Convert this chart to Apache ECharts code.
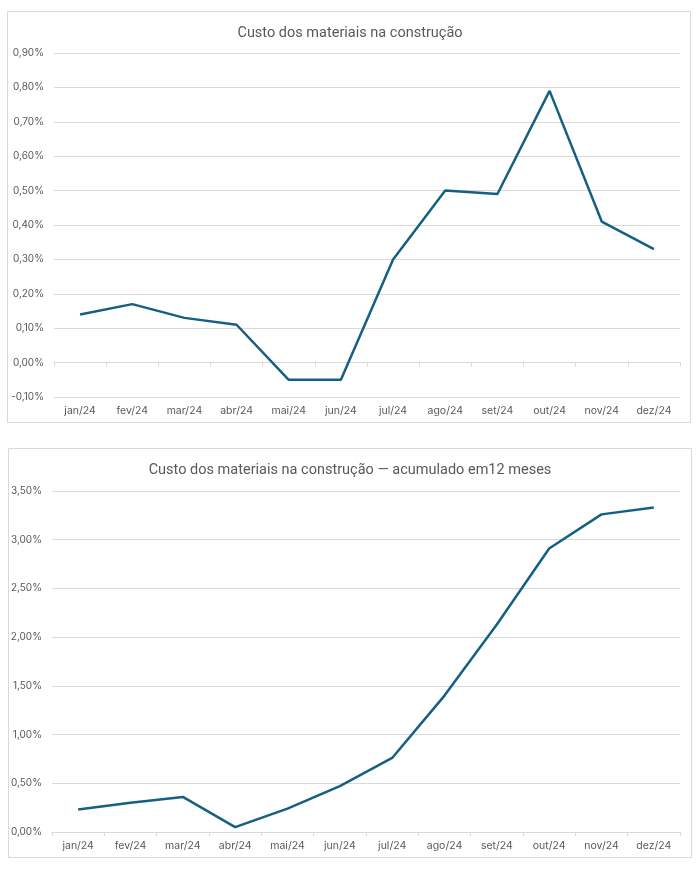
<!DOCTYPE html>
<html>
<head>
<meta charset="utf-8">
<script src="https://cdn.jsdelivr.net/npm/echarts@6/dist/echarts.min.js"></script>
<style>
html,body{margin:0;padding:0;background:#fff;}
#c{width:700px;height:876px;}
</style>
</head>
<body>
<div id="c"></div>
<script>
const categories = ['jan/24','fev/24','mar/24','abr/24','mai/24','jun/24','jul/24','ago/24','set/24','out/24','nov/24','dez/24'];
const monthly = [0.14, 0.17, 0.13, 0.11, -0.05, -0.05, 0.30, 0.50, 0.49, 0.79, 0.41, 0.33];
const accum12 = [0.23, 0.30, 0.36, 0.05, 0.24, 0.47, 0.76, 1.40, 2.13, 2.91, 3.26, 3.33];
const title1 = 'Custo dos materiais na construção';
const title2 = 'Custo dos materiais na construção — acumulado em12 meses';

const font = 'Inter, "Noto Sans", sans-serif';
const titleFont = 'Roboto, "Noto Sans", sans-serif';
const txt = '#595959';
const gridCol = '#d9d9d9';
const lineCol = '#156082';
const pct = v => v.toFixed(2).replace('.', ',') + '%';

function xAxis(idx){
  return {
    type:'category', gridIndex:idx, data:categories, boundaryGap:true,
    axisLine:{lineStyle:{color:gridCol,width:1}},
    axisTick:{show:true,length:4,lineStyle:{color:gridCol}},
    axisLabel:{color:txt,fontSize:10.5,fontFamily:font,margin:8}
  };
}
function yAxis(idx,min,max,interval){
  return {
    type:'value', gridIndex:idx, min:min, max:max, interval:interval,
    axisLine:{show:false}, axisTick:{show:false},
    splitLine:{lineStyle:{color:gridCol,width:1}},
    axisLabel:{color:txt,fontSize:10,fontFamily:font,margin:10,formatter:pct}
  };
}

const chart = echarts.init(document.getElementById('c'), null, {renderer:'canvas'});
chart.setOption({
  backgroundColor:'#fff',
  animation:false,
  graphic:[
    {type:'rect',shape:{x:7.5,y:11.5,width:683,height:411},style:{fill:'none',stroke:gridCol,lineWidth:1}},
    {type:'rect',shape:{x:8.5,y:448.5,width:683,height:409},style:{fill:'none',stroke:gridCol,lineWidth:1}}
  ],
  title:[
    {text:title1,left:'center',top:21,textStyle:{color:txt,fontSize:14.5,fontWeight:'normal',fontFamily:titleFont}},
    {text:title2,left:'center',top:458,textStyle:{color:txt,fontSize:14.5,fontWeight:'normal',fontFamily:titleFont}}
  ],
  grid:[
    {left:54,right:20,top:53,height:344},
    {left:52,right:20,top:491,height:341}
  ],
  xAxis:[xAxis(0),xAxis(1)],
  yAxis:[yAxis(0,-0.1,0.9,0.1),yAxis(1,0,3.5,0.5)],
  series:[
    {type:'line',xAxisIndex:0,yAxisIndex:0,data:monthly,showSymbol:false,lineStyle:{color:lineCol,width:2.5},itemStyle:{color:lineCol}},
    {type:'line',xAxisIndex:1,yAxisIndex:1,data:accum12,showSymbol:false,lineStyle:{color:lineCol,width:2.5},itemStyle:{color:lineCol}}
  ]
});
</script>
</body>
</html>
